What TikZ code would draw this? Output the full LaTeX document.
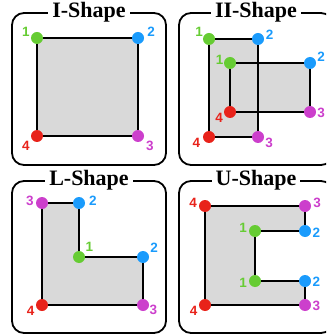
\documentclass[tikz,border=0pt]{standalone}
\usepackage{fontspec}
\newfontfamily\titlefont{Liberation Serif}
\newfontfamily\labfont{Liberation Sans}
\definecolor{cgreen}{HTML}{66CC33}
\definecolor{cblue}{HTML}{1A9BFC}
\definecolor{cmag}{HTML}{CC3FCC}
\definecolor{cred}{HTML}{E8221A}
\definecolor{shade}{HTML}{D9D9D9}
\tikzset{
  frame/.style={draw=black, line width=1.8pt, rounded corners=12pt},
  title/.style={fill=white, inner xsep=4pt, inner ysep=1pt, font=\titlefont\bfseries\fontsize{22}{22}\selectfont},
  shapefill/.style={fill=shade, draw=none},
  edge/.style={draw=black, line width=2pt},
  dot/.style={circle, fill=#1, inner sep=0pt, minimum size=12pt},
  lab/.style={text=#1, font=\labfont\bfseries\fontsize{13.5}{13.5}\selectfont, inner sep=0pt},
}
\begin{document}
\begin{tikzpicture}[x=1pt,y=-1pt]
\useasboundingbox (0,0) rectangle (326,336);
\clip (0,0) rectangle (326,336);
% frames
\draw[frame] (12,13) rectangle (166,165);
\draw[frame] (179,13) rectangle (333,165);
\draw[frame] (12,181) rectangle (166,333);
\draw[frame] (179,181) rectangle (333,333);
\node[title] (t1) at (89,12.5) {I-Shape};
\node[title] (t2) at (256,12.5) {II-Shape};
\node[title] (t3) at (89,180.5) {L-Shape};
\node[title] (t4) at (256,180.5) {U-Shape};

% ---------- I-Shape ----------
\coordinate (a1) at (37,38);
\coordinate (a2) at (138,38);
\coordinate (a3) at (138,136);
\coordinate (a4) at (37,136);
\path[shapefill] (a1) -- (a2) -- (a3) -- (a4) -- cycle;
\draw[edge] (a1) -- (a2) -- (a3) -- (a4) -- cycle;
\node[dot=cgreen] (da1) at (a1) {};
\node[dot=cblue] (da2) at (a2) {};
\node[dot=cmag] (da3) at (a3) {};
\node[dot=cred] (da4) at (a4) {};
\node[lab=cgreen] (la1) at (26,32) {1};
\node[lab=cblue] (la2) at (151,32) {2};
\node[lab=cmag] (la3) at (150,146) {3};
\node[lab=cred] (la4) at (26,146) {4};

% ---------- II-Shape ----------
\coordinate (b1) at (209,39);
\coordinate (b2) at (258,39);
\coordinate (b3) at (258,137);
\coordinate (b4) at (209,137);
\coordinate (c1) at (230,63);
\coordinate (c2) at (310,63);
\coordinate (c3) at (310,112);
\coordinate (c4) at (230,112);
\path[shapefill] (b1) -- (b2) -- (b3) -- (b4) -- cycle;
\path[shapefill] (c1) -- (c2) -- (c3) -- (c4) -- cycle;
\draw[edge] (b1) -- (b2) -- (b3) -- (b4) -- cycle;
\draw[edge] (c1) -- (c2) -- (c3) -- (c4) -- cycle;
\node[dot=cgreen] (db1) at (b1) {};
\node[dot=cblue] (db2) at (b2) {};
\node[dot=cmag] (db3) at (b3) {};
\node[dot=cred] (db4) at (b4) {};
\node[dot=cgreen] (dc1) at (c1) {};
\node[dot=cblue] (dc2) at (c2) {};
\node[dot=cmag] (dc3) at (c3) {};
\node[dot=cred] (dc4) at (c4) {};
\node[lab=cgreen] (lb1) at (199,32) {1};
\node[lab=cblue] (lb2) at (269.7,35) {2};
\node[lab=cmag] (lb3) at (269,142.7) {3};
\node[lab=cred] (lb4) at (196.3,143) {4};
\node[lab=cgreen] (lc1) at (219.7,60) {1};
\node[lab=cblue] (lc2) at (321,56.7) {2};
\node[lab=cmag] (lc3) at (321,113) {3};
\node[lab=cred] (lc4) at (219,118) {4};

% ---------- L-Shape ----------
\coordinate (e3) at (42,203);
\coordinate (e2) at (79,203);
\coordinate (e1) at (79,257);
\coordinate (f2) at (143,257);
\coordinate (f3) at (143,305);
\coordinate (e4) at (42,305);
\path[shapefill] (e3) -- (e2) -- (e1) -- (f2) -- (f3) -- (e4) -- cycle;
\draw[edge] (e3) -- (e2) -- (e1) -- (f2) -- (f3) -- (e4) -- cycle;
\node[dot=cmag] (de3) at (e3) {};
\node[dot=cblue] (de2) at (e2) {};
\node[dot=cgreen] (de1) at (e1) {};
\node[dot=cblue] (df2) at (f2) {};
\node[dot=cmag] (df3) at (f3) {};
\node[dot=cred] (de4) at (e4) {};
\node[lab=cmag] (le3) at (30,201) {3};
\node[lab=cblue] (le2) at (93,201) {2};
\node[lab=cgreen] (le1) at (89.3,247.3) {1};
\node[lab=cblue] (lf2) at (154,248) {2};
\node[lab=cmag] (lf3) at (153.3,309.7) {3};
\node[lab=cred] (le4) at (30.7,311.3) {4};

% ---------- U-Shape ----------
\coordinate (u4) at (205,206);
\coordinate (u3) at (305,206);
\coordinate (u2) at (305,231);
\coordinate (u1) at (255,231);
\coordinate (v1) at (255,281);
\coordinate (v2) at (305,281);
\coordinate (v3) at (305,305);
\coordinate (v4) at (205,305);
\path[shapefill] (u4) -- (u3) -- (u2) -- (u1) -- (v1) -- (v2) -- (v3) -- (v4) -- cycle;
\draw[edge] (u4) -- (u3) -- (u2) -- (u1) -- (v1) -- (v2) -- (v3) -- (v4) -- cycle;
\node[dot=cred] (du4) at (u4) {};
\node[dot=cmag] (du3) at (u3) {};
\node[dot=cblue] (du2) at (u2) {};
\node[dot=cgreen] (du1) at (u1) {};
\node[dot=cgreen] (dv1) at (v1) {};
\node[dot=cblue] (dv2) at (v2) {};
\node[dot=cmag] (dv3) at (v3) {};
\node[dot=cred] (dv4) at (v4) {};
\node[lab=cred] (lu4) at (193,203) {4};
\node[lab=cmag] (lu3) at (317,203) {3};
\node[lab=cgreen] (lu1) at (243,228) {1};
\node[lab=cblue] (lu2) at (316.3,233) {2};
\node[lab=cgreen] (lv1) at (243,283) {1};
\node[lab=cblue] (lv2) at (316.3,281.3) {2};
\node[lab=cmag] (lv3) at (316.3,306.3) {3};
\node[lab=cred] (lv4) at (193.7,311.3) {4};
\end{tikzpicture}
\end{document}
